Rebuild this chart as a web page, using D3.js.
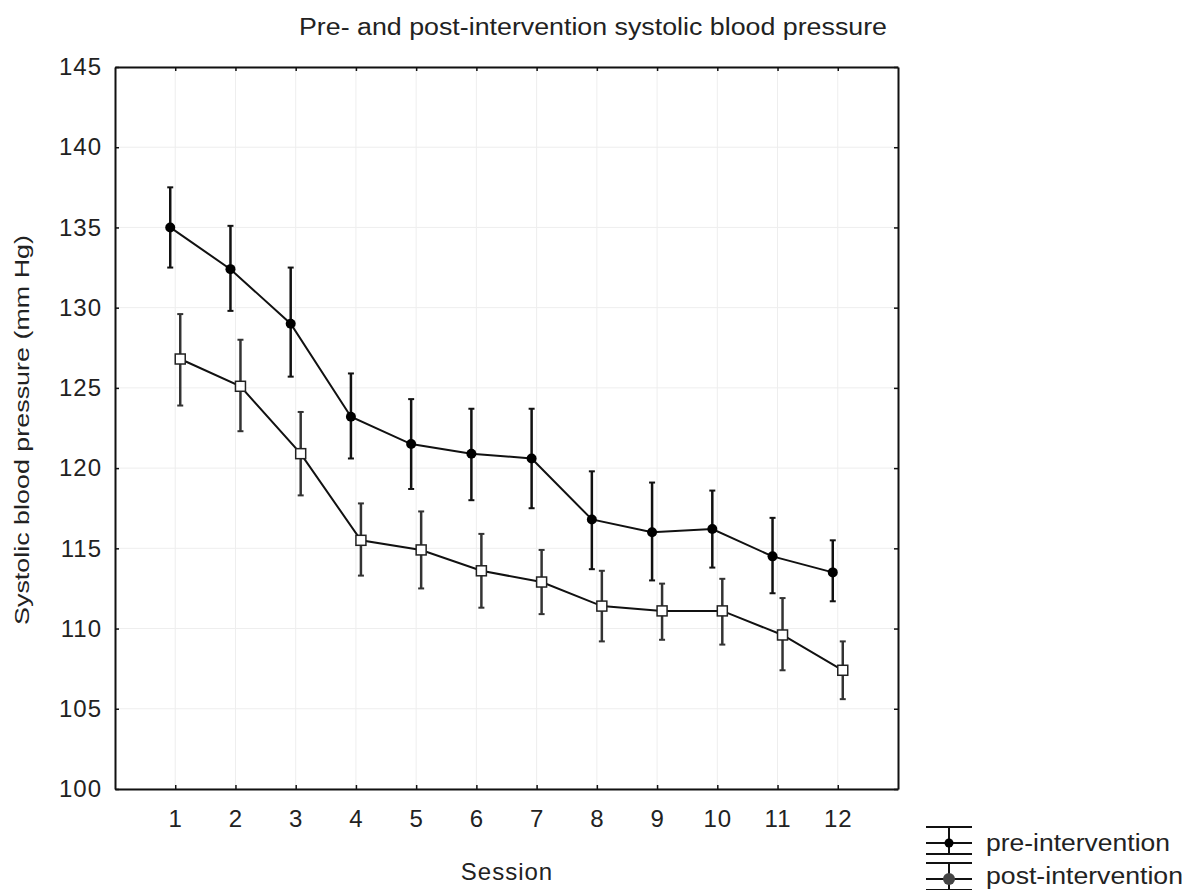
<!DOCTYPE html>
<html>
<head>
<meta charset="utf-8">
<script src="https://cdn.jsdelivr.net/npm/d3@7"></script>
<style>
  body { margin: 0; background: #fff; }
  text { font-family: "Liberation Sans", Arial, sans-serif; fill: #222; }
</style>
</head>
<body>
<div id="chart"></div>
<script>
// Sessions and means (mm Hg)
const sessions = [1, 2, 3, 4, 5, 6, 7, 8, 9, 10, 11, 12];
const preMean = [135.0, 132.4, 129.0, 123.2, 121.5, 120.9, 120.6, 116.8, 116.0, 116.2, 114.5, 113.5];
const preLow  = [132.5, 129.8, 125.7, 120.6, 118.7, 118.0, 117.5, 113.7, 113.0, 113.8, 112.2, 111.7];
const preHigh = [137.5, 135.1, 132.5, 125.9, 124.3, 123.7, 123.7, 119.8, 119.1, 118.6, 116.9, 115.5];
const postMean = [126.8, 125.1, 120.9, 115.5, 114.9, 113.6, 112.9, 111.4, 111.1, 111.1, 109.6, 107.4];
const postLow  = [123.9, 122.3, 118.3, 113.3, 112.5, 111.3, 110.9, 109.2, 109.3, 109.0, 107.4, 105.6];
const postHigh = [129.6, 128.0, 123.5, 117.8, 117.3, 115.9, 114.9, 113.6, 112.8, 113.1, 111.9, 109.2];
const yTicks = [100, 105, 110, 115, 120, 125, 130, 135, 140, 145];
const seriesNames = ["pre-intervention", "post-intervention"];

const W = 1192, H = 890;
const pLeft = 115, pRight = 898, pTop = 67, pBottom = 789;

const svg = d3.select("#chart").append("svg")
  .attr("width", W).attr("height", H);

const x = d3.scaleLinear().domain([0, 13]).range([pLeft, pRight]);
const y = d3.scaleLinear().domain([100, 145]).range([pBottom, pTop]);

// grid
svg.append("g").selectAll("line").data(sessions).enter().append("line")
  .attr("x1", d => x(d)).attr("x2", d => x(d))
  .attr("y1", pTop).attr("y2", pBottom)
  .attr("stroke", "#eee").attr("stroke-width", 1);
svg.append("g").selectAll("line").data(yTicks).enter().append("line")
  .attr("x1", pLeft).attr("x2", pRight)
  .attr("y1", d => y(d)).attr("y2", d => y(d))
  .attr("stroke", "#eee").attr("stroke-width", 1);

// axes (ticks pointing inward, mirrored on top/right)
const axStyle = g => {
  g.select(".domain").attr("stroke", "#111").attr("stroke-width", 2);
  g.selectAll(".tick line").attr("stroke", "#111").attr("stroke-width", 1.5);
  g.selectAll("text").style("font-size", "24px").style("letter-spacing", "1px").attr("fill", "#222");
};
svg.append("g").attr("transform", `translate(0,${pBottom})`)
  .call(d3.axisBottom(x).tickValues(sessions).tickSizeInner(-4).tickSizeOuter(0).tickPadding(21))
  .call(axStyle);
svg.append("g").attr("transform", `translate(0,${pTop})`)
  .call(d3.axisTop(x).tickValues(sessions).tickSizeInner(-4).tickSizeOuter(0).tickFormat(""))
  .call(axStyle);
svg.append("g").attr("transform", `translate(${pLeft},0)`)
  .call(d3.axisLeft(y).tickValues(yTicks).tickSizeInner(-4).tickSizeOuter(0).tickPadding(13))
  .call(axStyle);
svg.append("g").attr("transform", `translate(${pRight},0)`)
  .call(d3.axisRight(y).tickValues(yTicks).tickSizeInner(-4).tickSizeOuter(0).tickFormat(""))
  .call(axStyle);

// series
const series = [
  { name: seriesNames[0], mean: preMean, lo: preLow, hi: preHigh, dx: -5, marker: "circle", col: "#111" },
  { name: seriesNames[1], mean: postMean, lo: postLow, hi: postHigh, dx: 5, marker: "square", col: "#333" }
];

const line = d3.line();
series.forEach(s => {
  const pts = sessions.map((d, i) => ({ sx: x(d) + s.dx, m: s.mean[i], lo: s.lo[i], hi: s.hi[i] }));
  const g = svg.append("g");
  g.append("path")
    .attr("d", line(pts.map(p => [p.sx, y(p.m)])))
    .attr("fill", "none").attr("stroke", "#111").attr("stroke-width", 2);
  const eb = g.selectAll(".eb").data(pts).enter().append("g");
  eb.append("line")
    .attr("x1", p => p.sx).attr("x2", p => p.sx)
    .attr("y1", p => y(p.lo)).attr("y2", p => y(p.hi))
    .attr("stroke", s.col).attr("stroke-width", 2.5);
  eb.append("line")
    .attr("x1", p => p.sx - 3).attr("x2", p => p.sx + 3)
    .attr("y1", p => y(p.lo)).attr("y2", p => y(p.lo))
    .attr("stroke", s.col).attr("stroke-width", 2);
  eb.append("line")
    .attr("x1", p => p.sx - 3).attr("x2", p => p.sx + 3)
    .attr("y1", p => y(p.hi)).attr("y2", p => y(p.hi))
    .attr("stroke", s.col).attr("stroke-width", 2);
  if (s.marker === "circle") {
    eb.append("circle")
      .attr("cx", p => p.sx).attr("cy", p => y(p.m)).attr("r", 5)
      .attr("fill", "#000");
  } else {
    eb.append("rect")
      .attr("x", p => p.sx - 5).attr("y", p => y(p.m) - 5)
      .attr("width", 10).attr("height", 10)
      .attr("fill", "#fff").attr("stroke", "#222").attr("stroke-width", 1.5);
  }
});

// title and axis labels
svg.append("text").attr("x", 299).attr("y", 35)
  .attr("textLength", 588).attr("lengthAdjust", "spacingAndGlyphs")
  .style("font-size", "23px").text("Pre- and post-intervention systolic blood pressure");
svg.append("text").attr("x", 507).attr("y", 880).attr("text-anchor", "middle")
  .style("font-size", "24px").style("letter-spacing", "1px").text("Session");
svg.append("text")
  .attr("transform", `translate(29,${430}) rotate(-90)`)
  .attr("text-anchor", "middle")
  .attr("textLength", 390).attr("lengthAdjust", "spacingAndGlyphs")
  .style("font-size", "21px").text("Systolic blood pressure (mm Hg)");

// legend
const lg = svg.append("g");
const legendY = [843, 879];
const legendLen = [184, 197];
seriesNames.forEach((n, i) => {
  const cy = legendY[i];
  const gi = lg.append("g");
  [-16, 0, 11].forEach(o => {
    gi.append("line").attr("x1", 926).attr("x2", 972)
      .attr("y1", cy + o).attr("y2", cy + o)
      .attr("stroke", "#111").attr("stroke-width", 2);
  });
  gi.append("line").attr("x1", 949).attr("x2", 949)
    .attr("y1", cy - 16).attr("y2", cy + 11)
    .attr("stroke", "#111").attr("stroke-width", 2);
  gi.append("circle").attr("cx", 949).attr("cy", cy).attr("r", i === 0 ? 4.5 : 6)
    .attr("fill", i === 0 ? "#000" : "#444");
  gi.append("text").attr("x", 986).attr("y", cy + (i === 0 ? 8 : 5))
    .attr("textLength", legendLen[i]).attr("lengthAdjust", "spacingAndGlyphs")
    .style("font-size", "23px").text(n);
});
</script>
</body>
</html>
